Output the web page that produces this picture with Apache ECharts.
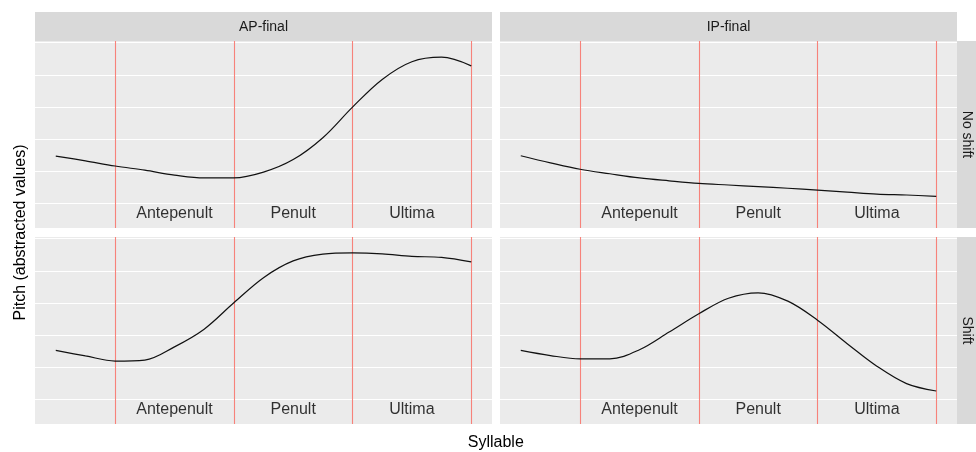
<!DOCTYPE html>
<html>
<head>
<meta charset="utf-8">
<script src="https://cdn.jsdelivr.net/npm/echarts@6/dist/echarts.min.js"></script>
<style>
html,body{margin:0;padding:0;background:#fff;}
#chart{width:976px;height:452px;}
</style>
</head>
<body>
<div id="chart"></div>
<script>
// ---- data ----
const xPos = [0.5, 0.75, 1, 1.25, 1.5, 1.75, 2, 2.25, 2.5, 2.75, 3, 3.25, 3.5, 3.75, 4];
const apNoShift = [2.48, 2.33, 2.17, 2.04, 1.89, 1.80, 1.80, 1.98, 2.37, 3.05, 4.00, 4.86, 5.41, 5.55, 5.28];
const ipNoShift = [2.49, 2.27, 2.07, 1.93, 1.80, 1.71, 1.63, 1.58, 1.53, 1.48, 1.42, 1.36, 1.30, 1.27, 1.23];
const apShift   = [2.53, 2.36, 2.20, 2.23, 2.64, 3.19, 4.01, 4.79, 5.31, 5.52, 5.56, 5.53, 5.45, 5.42, 5.28];
const ipShift   = [2.53, 2.37, 2.27, 2.27, 2.55, 3.10, 3.67, 4.15, 4.32, 4.06, 3.47, 2.74, 2.04, 1.50, 1.27];
const boundaries = [1, 2, 3, 4];
const gridValues = [1, 2, 3, 4, 5, 6];
const syllables = ['Antepenult', 'Penult', 'Ultima'];
const syllableX = [1.5, 2.5, 3.5];
const syllableY = 0.7;
const colFacets = ['AP-final', 'IP-final'];
const rowFacets = ['No shift', 'Shift'];
const panels = [apNoShift, ipNoShift, apShift, ipShift];

// ---- layout ----
const FONT = 'Liberation Sans, Arial, sans-serif';
const panelLeft = [35, 500];
const panelTop = [41, 237];
const PW = 457, PH = 187;

const grids = [], xAxes = [], yAxes = [], series = [];
panels.forEach((vals, i) => {
  const r = Math.floor(i / 2), c = i % 2;
  grids.push({left: panelLeft[c], top: panelTop[r], width: PW, height: PH,
    show: true, backgroundColor: '#EBEBEB', borderWidth: 0});
  xAxes.push({gridIndex: i, type: 'value', min: 0.325, max: 4.175,
    axisLine: {show: false}, axisTick: {show: false}, axisLabel: {show: false}, splitLine: {show: false}});
  yAxes.push({gridIndex: i, type: 'value', min: 0.245, max: 6.053,
    axisLine: {show: false}, axisTick: {show: false}, axisLabel: {show: false}, splitLine: {show: false}});
  // gridlines
  series.push({type: 'line', xAxisIndex: i, yAxisIndex: i, data: [], z: 1, silent: true,
    markLine: {silent: true, z: 1, symbol: 'none', label: {show: false}, animation: false,
      lineStyle: {color: '#FFFFFF', width: 1.2, type: 'solid'},
      data: gridValues.map(v => ({yAxis: v}))}});
  // red boundaries
  series.push({type: 'line', xAxisIndex: i, yAxisIndex: i, data: [], z: 2, silent: true,
    markLine: {silent: true, z: 2, symbol: 'none', label: {show: false}, animation: false,
      lineStyle: {color: '#F7827A', width: 1.1, type: 'solid'},
      data: boundaries.map(v => ({xAxis: v}))}});
  // pitch curve
  series.push({type: 'line', xAxisIndex: i, yAxisIndex: i, z: 3,
    data: xPos.map((x, k) => [x, vals[k]]),
    smooth: 0.35, symbol: 'none', animation: false,
    lineStyle: {color: '#111111', width: 1.2}});
  // syllable labels
  series.push({type: 'scatter', xAxisIndex: i, yAxisIndex: i, z: 4, symbolSize: 0,
    animation: false, silent: true,
    data: syllableX.map((x, k) => ({value: [x, syllableY], name: syllables[k]})),
    label: {show: true, position: 'inside', formatter: p => p.name,
      fontFamily: FONT, fontSize: 16, color: '#000000'}});
});

const graphics = [];
colFacets.forEach((t, c) => {
  graphics.push({type: 'rect', shape: {x: panelLeft[c], y: 12, width: PW, height: 29},
    style: {fill: '#D9D9D9'}, silent: true});
  graphics.push({type: 'text', x: panelLeft[c] + PW / 2, y: 27,
    style: {text: t, fontFamily: FONT, fontSize: 14, fill: '#1A1A1A', textAlign: 'center', textVerticalAlign: 'middle'}});
});
rowFacets.forEach((t, r) => {
  graphics.push({type: 'rect', shape: {x: 957, y: panelTop[r], width: 19, height: PH},
    style: {fill: '#D9D9D9'}, silent: true});
  graphics.push({type: 'text', x: 966.5, y: panelTop[r] + PH / 2, rotation: -Math.PI / 2,
    style: {text: t, fontFamily: FONT, fontSize: 14, fill: '#1A1A1A', textAlign: 'center', textVerticalAlign: 'middle'}});
});
graphics.push({type: 'text', x: 495.8, y: 443,
  style: {text: 'Syllable', fontFamily: FONT, fontSize: 16, fill: '#000', textAlign: 'center', textVerticalAlign: 'middle'}});
graphics.push({type: 'text', x: 21, y: 232.5, rotation: Math.PI / 2,
  style: {text: 'Pitch (abstracted values)', fontFamily: FONT, fontSize: 16, fill: '#000', textAlign: 'center', textVerticalAlign: 'middle'}});

const chart = echarts.init(document.getElementById('chart'), null, {renderer: 'canvas'});
chart.setOption({
  animation: false,
  backgroundColor: '#FFFFFF',
  grid: grids, xAxis: xAxes, yAxis: yAxes, series: series,
  graphic: graphics
});
</script>
</body>
</html>
